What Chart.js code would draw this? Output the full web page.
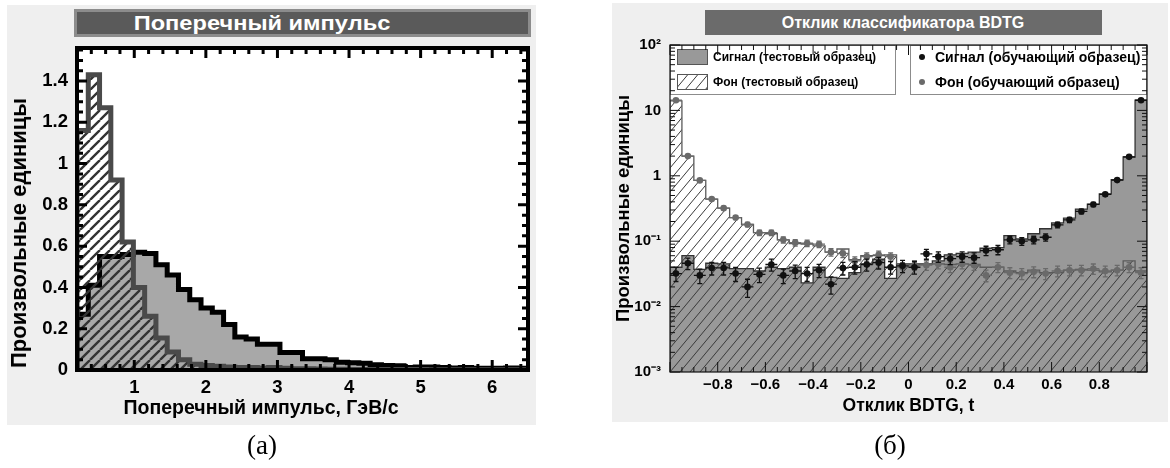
<!DOCTYPE html>
<html>
<head>
<meta charset="utf-8">
<title>Поперечный импульс / Отклик классификатора BDTG</title>
<script src="https://cdn.jsdelivr.net/npm/chart.js@4.4.1/dist/chart.umd.min.js"></script>
<style>
  body { margin: 0; width: 1170px; height: 468px; background: #fff; position: relative; overflow: hidden;
         font-family: "Liberation Sans", Arial, sans-serif; }
  .panel { position: absolute; background: #efefef; }
  .hdr { position: absolute; }
  .lbl { position: absolute; white-space: nowrap; font-weight: bold; color: #000; }
  .cap { position: absolute; font-family: "Liberation Serif", serif; font-size: 27px; transform: translate(-50%, -50%); }
  canvas { position: absolute; top: 0; }
</style>
</head>
<body>
<div class="panel" style="left:7px;top:5px;width:529px;height:420px"></div>
<div class="panel" style="left:612px;top:3px;width:556px;height:419px"></div>
<div class="hdr" style="left:74px;top:9px;width:457px;height:28px;background:#5a5a5a;box-shadow:inset 0 0 0 3px #8c8c8c"></div>
<div class="hdr" style="left:705px;top:10px;width:397px;height:25px;background:#6b6b6b"></div>
<div class="lbl" style="left:262px;top:23px;color:#fff;font-size:20px;transform:translate(-50%,-50%) scaleX(1.18)">Поперечный импульс</div>
<div class="lbl" style="left:903px;top:23px;color:#fff;font-size:16px;transform:translate(-50%,-50%)">Отклик классификатора BDTG</div>

<canvas id="pt" width="545" height="430" style="left:0"></canvas>
<canvas id="bdt" width="570" height="430" style="left:600px"></canvas>

<div class="lbl" style="left:19px;top:233px;font-size:22px;transform:translate(-50%,-50%) rotate(-90deg)">Произвольные единицы</div>
<div class="lbl" style="left:261px;top:407px;font-size:19.5px;transform:translate(-50%,-50%)">Поперечный импульс, ГэВ/с</div>
<div class="cap" style="left:262px;top:445px">(a)</div>
<div class="cap" style="left:890px;top:445px">(б)</div>

<script>
const FONT = "'Liberation Sans', Arial, sans-serif";

// --- panel (a): transverse momentum, 40 bins from 0.2 GeV/c
const ptBinStart = 0.2;
const ptBinWidth = 0.1575;
const ptSignal = [0.27, 0.41, 0.55, 0.55, 0.56, 0.57, 0.565, 0.51, 0.46, 0.39,
                  0.34, 0.30, 0.28, 0.22, 0.16, 0.15, 0.125, 0.125, 0.085, 0.085,
                  0.055, 0.055, 0.05, 0.037, 0.035, 0.033, 0.025, 0.022, 0.02, 0.012,
                  0.015, 0.014, 0.012, 0.010, 0.012, 0.008, 0.009, 0.008, 0.010, 0.008];
const ptBackground = [1.16, 1.43, 1.27, 0.92, 0.62, 0.40, 0.26, 0.155, 0.087, 0.05,
                      0.028, 0.022, 0.018, 0.015, 0.012, 0.012, 0.010, 0.012, 0.008, 0.006,
                      0.006, 0.005, 0.004, 0.004, 0.003, 0.003, 0.003, 0.002, 0.002, 0.002,
                      0.002, 0.001, 0.001, 0.001, 0.001, 0.001, 0.001, 0.001, 0.001, 0.001];
const ptXTicks = [1, 2, 3, 4, 5, 6];
const ptYTicks = [0, 0.2, 0.4, 0.6, 0.8, 1, 1.2, 1.4];

// --- panel (б): BDTG response, 40 bins from -1
const tBinStart = -1;
const tBinWidth = 0.05;
const sigTest = [0.040, 0.060, 0.037, 0.046, 0.045, 0.038, 0.038, 0.035, 0.040, 0.038,
                 0.040, 0.023, 0.040, 0.028, 0.027, 0.033, 0.045, 0.053, 0.027, 0.045,
                 0.045, 0.045, 0.050, 0.062, 0.065, 0.068, 0.078, 0.080, 0.122, 0.108,
                 0.130, 0.155, 0.190, 0.225, 0.310, 0.370, 0.530, 0.870, 1.94, 14.3];
const bkgTest = [14.0, 2.0, 0.85, 0.44, 0.32, 0.23, 0.18, 0.135, 0.13, 0.105,
                 0.092, 0.090, 0.085, 0.068, 0.076, 0.052, 0.060, 0.060, 0.062, 0.045,
                 0.045, 0.045, 0.045, 0.044, 0.045, 0.044, 0.040, 0.040, 0.035, 0.033,
                 0.036, 0.033, 0.033, 0.036, 0.037, 0.036, 0.034, 0.036, 0.050, 0.035];
const sigTrain = [0.032, 0.046, 0.030, 0.039, 0.039, 0.032, 0.020, 0.031, 0.044, 0.030,
                  0.035, 0.032, 0.036, 0.022, 0.039, 0.040, 0.044, 0.047, 0.040, 0.042,
                  0.040, 0.064, 0.058, 0.054, 0.058, 0.056, 0.072, 0.074, 0.105, 0.100,
                  0.105, 0.115, 0.178, 0.212, 0.285, 0.365, 0.52, 0.86, 1.95, 14.3];
const sigTrainErr = [0.0078, 0.0093, 0.0075, 0.0086, 0.0086, 0.0078, 0.0062, 0.0077, 0.0091, 0.0075,
                     0.0082, 0.0078, 0.0083, 0.0065, 0.0086, 0.0087, 0.0091, 0.0094, 0.0087, 0.0089,
                     0.0087, 0.0110, 0.0105, 0.0101, 0.0105, 0.0103, 0.0117, 0.0119, 0.0141, 0.0138,
                     0.0141, 0.0148, 0.0184, 0.0200, 0.0233, 0.0263, 0.0314, 0.0404, 0.061, 0.165];
const bkgTrain = [14.3, 2.0, 0.85, 0.44, 0.32, 0.23, 0.18, 0.135, 0.135, 0.105,
                  0.095, 0.093, 0.090, 0.068, 0.065, 0.050, 0.058, 0.062, 0.058, 0.040,
                  0.043, 0.043, 0.045, 0.040, 0.045, 0.043, 0.030, 0.040, 0.033, 0.032,
                  0.034, 0.032, 0.035, 0.036, 0.036, 0.038, 0.035, 0.036, 0.040, 0.033];
const bkgTrainErr = [0.13, 0.049, 0.032, 0.023, 0.0196, 0.0166, 0.0147, 0.0127, 0.0127, 0.0112,
                     0.0107, 0.0106, 0.0104, 0.0090, 0.0088, 0.0077, 0.0083, 0.0086, 0.0083, 0.0069,
                     0.0072, 0.0072, 0.0073, 0.0069, 0.0073, 0.0072, 0.0060, 0.0069, 0.0063, 0.0062,
                     0.0064, 0.0062, 0.0065, 0.0066, 0.0066, 0.0068, 0.0065, 0.0066, 0.0069, 0.0063];
const tXTicks = [-0.8, -0.6, -0.4, -0.2, 0, 0.2, 0.4, 0.6, 0.8];
const tYTicks = [0.001, 0.01, 0.1, 1, 10, 100];
const tYLabels = ['10\u207B\u00B3', '10\u207B\u00B2', '10\u207B\u00B9', '1', '10', '10\u00B2'];

// step outline of a histogram, closed down to the base so it can be filled
function histPoints(start, width, vals, base) {
  const pts = [{x: start, y: base}];
  vals.forEach((v, k) => pts.push({x: start + k * width, y: v}));
  pts.push({x: start + vals.length * width, y: base});
  return pts;
}
const binCentres = (start, width, vals) => vals.map((v, k) => ({x: start + (k + 0.5) * width, y: v}));

function hatch(ctx, w, h, lw, color) {
  const c = document.createElement('canvas');
  c.width = w; c.height = h;
  const g = c.getContext('2d');
  g.strokeStyle = color; g.lineWidth = lw;
  g.beginPath();
  for (const dx of [-w, 0, w]) { g.moveTo(dx, h); g.lineTo(dx + w, 0); }
  g.stroke();
  return ctx.createPattern(c, 'repeat');
}

// ROOT-style frame with inward ticks on all four sides
function tickList(scale, o) {
  const out = [];
  if (o.log) {
    for (let e = Math.floor(Math.log10(scale.min)); e < Math.ceil(Math.log10(scale.max)); e++) {
      for (let m = 1; m <= 9; m++) out.push({v: m * Math.pow(10, e), major: m === 1});
    }
    out.push({v: scale.max, major: true});
    return out;
  }
  const ms = o.step / o.sub;
  for (let i = Math.ceil(scale.min / ms - 1e-6); i <= Math.floor(scale.max / ms + 1e-6); i++) {
    out.push({v: i * ms, major: i % o.sub === 0});
  }
  return out;
}
const framePlugin = {
  id: 'frame',
  beforeDraw(chart) {
    const {ctx, chartArea: a} = chart;
    ctx.save();
    ctx.fillStyle = '#fff';
    ctx.fillRect(a.left, a.top, a.right - a.left, a.bottom - a.top);
    ctx.restore();
  },
  afterDraw(chart, args, o) {
    const {ctx, chartArea: a, scales: {x, y}} = chart;
    ctx.save();
    ctx.strokeStyle = o.color;
    ctx.lineWidth = o.tickWidth;
    ctx.beginPath();
    for (const t of tickList(x, o.x)) {
      const p = x.getPixelForValue(t.v), len = t.major ? o.major : o.minor;
      ctx.moveTo(p, a.bottom); ctx.lineTo(p, a.bottom - len);
      ctx.moveTo(p, a.top); ctx.lineTo(p, a.top + len);
    }
    for (const t of tickList(y, o.y)) {
      const p = y.getPixelForValue(t.v), len = t.major ? o.major : o.minor;
      ctx.moveTo(a.left, p); ctx.lineTo(a.left + len, p);
      ctx.moveTo(a.right, p); ctx.lineTo(a.right - len, p);
    }
    ctx.stroke();
    ctx.lineWidth = o.frameWidth;
    ctx.strokeRect(a.left, a.top, a.right - a.left, a.bottom - a.top);
    ctx.restore();
  }
};

// horizontal (bin width) and vertical error bars under the training points
const errorBars = {
  id: 'errorBars',
  beforeDatasetDraw(chart, args) {
    const ds = chart.data.datasets[args.index];
    if (!ds.errs) return;
    const {ctx, chartArea: a, scales: {x, y}} = chart;
    ctx.save();
    ctx.beginPath();
    ctx.rect(a.left, a.top, a.right - a.left, a.bottom - a.top);
    ctx.clip();
    ctx.strokeStyle = ds.pointBackgroundColor;
    ctx.lineWidth = 1.3;
    ctx.beginPath();
    ds.data.forEach((p, i) => {
      const px = x.getPixelForValue(p.x), py = y.getPixelForValue(p.y);
      const lo = y.getPixelForValue(Math.max(p.y - ds.errs[i], y.min));
      const hi = y.getPixelForValue(p.y + ds.errs[i]);
      ctx.moveTo(x.getPixelForValue(p.x - tBinWidth / 2), py);
      ctx.lineTo(x.getPixelForValue(p.x + tBinWidth / 2), py);
      ctx.moveTo(px, lo); ctx.lineTo(px, hi);
      ctx.moveTo(px - 2.5, lo); ctx.lineTo(px + 2.5, lo);
      ctx.moveTo(px - 2.5, hi); ctx.lineTo(px + 2.5, hi);
    });
    ctx.stroke();
    ctx.restore();
  }
};

// two boxed legends inside the top of the plot
const boxLegends = {
  id: 'boxLegends',
  afterDatasetsDraw(chart, args, o) {
    const {ctx, chartArea: a} = chart;
    const sets = chart.data.datasets;
    ctx.save();
    for (const b of o.boxes) {
      const x0 = a.left + b.x, y0 = a.top;
      ctx.fillStyle = '#fff';
      ctx.fillRect(x0, y0, b.w, b.h);
      ctx.strokeStyle = '#8c8c8c';
      ctx.lineWidth = 1;
      ctx.strokeRect(x0 + 0.5, y0 + 0.5, b.w - 1, b.h - 1);
      b.items.forEach((idx, i) => {
        const ds = sets[idx], cy = y0 + b.rows[i];
        if (ds.showLine === false) {
          ctx.fillStyle = ds.pointBackgroundColor;
          ctx.beginPath(); ctx.arc(x0 + 12, cy, 3, 0, Math.PI * 2); ctx.fill();
        } else {
          ctx.fillStyle = ds.backgroundColor;
          ctx.fillRect(x0 + 7, cy - 8, 31, 16);
          ctx.strokeStyle = '#555';
          ctx.strokeRect(x0 + 7.5, cy - 7.5, 30, 15);
        }
        ctx.fillStyle = '#000';
        ctx.font = b.font;
        ctx.textBaseline = 'middle';
        ctx.fillText(ds.label, x0 + b.textX, cy + 1);
      });
    }
    ctx.restore();
  }
};

const tickFont = (size) => ({family: FONT, size: size, weight: 'bold'});

// ---------- panel (a)
const ptCtx = document.getElementById('pt').getContext('2d');
new Chart(ptCtx, {
  type: 'line',
  data: {
    datasets: [{
      label: 'Фон',
      data: histPoints(ptBinStart, ptBinWidth, ptBackground, 0),
      stepped: true,
      borderColor: '#4a4a4a',
      borderWidth: 5,
      backgroundColor: hatch(ptCtx, 10, 10, 2.4, '#333'),
      fill: 'origin',
      pointRadius: 0
    }, {
      label: 'Сигнал',
      data: histPoints(ptBinStart, ptBinWidth, ptSignal, 0),
      stepped: true,
      borderColor: '#000',
      borderWidth: 5,
      backgroundColor: '#a8a8a8',
      fill: 'origin',
      pointRadius: 0
    }]
  },
  options: {
    responsive: false,
    animation: false,
    devicePixelRatio: 1,
    events: [],
    layout: { padding: { top: 48, right: 17, left: 0, bottom: 0 } },
    plugins: {
      legend: { display: false },
      tooltip: { enabled: false },
      frame: { color: '#000', tickWidth: 3, frameWidth: 4, major: 10, minor: 6,
               x: { step: 1, sub: 5 }, y: { step: 0.2, sub: 4 } }
    },
    scales: {
      x: {
        type: 'linear', min: 0.2, max: 6.5,
        afterFit: s => { s.height = 60; },
        afterBuildTicks: s => { s.ticks = ptXTicks.map(v => ({value: v})); },
        ticks: { padding: 7, color: '#000', font: tickFont(18.5), maxRotation: 0, autoSkip: false },
        grid: { display: false, drawTicks: false },
        border: { display: false }
      },
      y: {
        type: 'linear', min: 0, max: 1.56,
        afterFit: s => { s.width = 77; },
        afterBuildTicks: s => { s.ticks = ptYTicks.map(v => ({value: v})); },
        ticks: { padding: 9, color: '#000', font: tickFont(18.5), autoSkip: false, callback: v => String(v) },
        grid: { display: false, drawTicks: false },
        border: { display: false }
      }
    }
  },
  plugins: [framePlugin]
});

// ---------- panel (б)
const tCtx = document.getElementById('bdt').getContext('2d');
const tMin = tYTicks[0];
new Chart(tCtx, {
  type: 'line',
  data: {
    datasets: [{
      label: 'Сигнал (обучающий образец)',
      data: binCentres(tBinStart, tBinWidth, sigTrain),
      errs: sigTrainErr,
      showLine: false,
      pointRadius: 3.3,
      pointBorderWidth: 0,
      pointBackgroundColor: '#111'
    }, {
      label: 'Фон (обучающий образец)',
      data: binCentres(tBinStart, tBinWidth, bkgTrain),
      errs: bkgTrainErr,
      showLine: false,
      pointRadius: 3.3,
      pointBorderWidth: 0,
      pointBackgroundColor: '#6a6a6a'
    }, {
      label: 'Фон (тестовый образец)',
      data: histPoints(tBinStart, tBinWidth, bkgTest, tMin),
      stepped: true,
      borderColor: '#5a5a5a',
      borderWidth: 1.3,
      backgroundColor: hatch(tCtx, 10, 12, 1, '#3a3a3a'),
      fill: 'start',
      pointRadius: 0
    }, {
      label: 'Сигнал (тестовый образец)',
      data: histPoints(tBinStart, tBinWidth, sigTest, tMin),
      stepped: true,
      borderColor: '#333',
      borderWidth: 1.3,
      backgroundColor: '#999',
      fill: 'start',
      pointRadius: 0
    }]
  },
  options: {
    responsive: false,
    animation: false,
    devicePixelRatio: 1,
    events: [],
    layout: { padding: { top: 45, right: 23, left: 0, bottom: 0 } },
    plugins: {
      legend: { display: false },
      tooltip: { enabled: false },
      frame: { color: '#111', tickWidth: 1, frameWidth: 1.2, major: 10, minor: 5,
               x: { step: 0.2, sub: 4 }, y: { log: true } },
      boxLegends: {
        boxes: [
          { x: 0, w: 226, h: 50, rows: [12, 37], textX: 43, font: 'bold 12px ' + FONT, items: [3, 2] },
          { x: 240, w: 237, h: 50, rows: [12, 37], textX: 25, font: 'bold 14px ' + FONT, items: [0, 1] }
        ]
      }
    },
    scales: {
      x: {
        type: 'linear', min: -1, max: 1,
        afterFit: s => { s.height = 58; },
        afterBuildTicks: s => { s.ticks = tXTicks.map(v => ({value: v})); },
        ticks: { padding: 4, color: '#000', font: tickFont(15), maxRotation: 0, autoSkip: false,
                 callback: v => (v < 0 ? '\u2212' + Math.abs(v) : String(v)) },
        title: { display: true, text: 'Отклик BDTG, t', color: '#000', font: tickFont(17.5), padding: { top: 0, bottom: 13 } },
        grid: { display: false, drawTicks: false },
        border: { display: false }
      },
      y: {
        type: 'logarithmic', min: 0.001, max: 100,
        afterFit: s => { s.width = 70; },
        afterBuildTicks: s => { s.ticks = tYTicks.map(v => ({value: v})); },
        ticks: { padding: 9, color: '#000', font: tickFont(15), autoSkip: false,
                 callback: (v, i) => tYLabels[i] },
        title: { display: true, text: 'Произвольные единицы', color: '#000', font: tickFont(18.5), padding: { top: 13, bottom: 0 } },
        grid: { display: false, drawTicks: false },
        border: { display: false }
      }
    }
  },
  plugins: [framePlugin, errorBars, boxLegends]
});
</script>
</body>
</html>
